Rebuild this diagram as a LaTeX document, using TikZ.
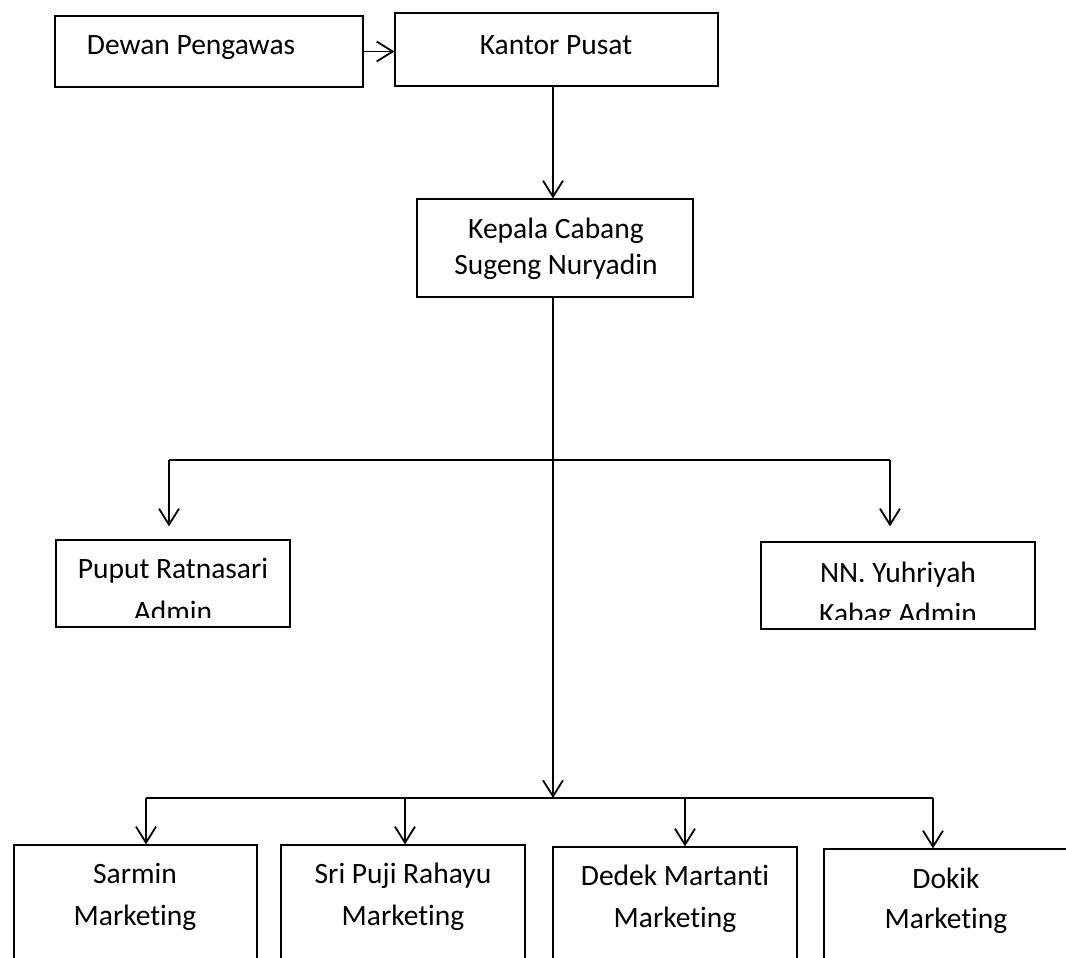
\documentclass[tikz,border=0pt]{standalone}
\usepackage{fontspec}
\setmainfont{Carlito}[Ligatures={NoCommon,NoContextual},Contextuals=NoAlternate]
\usetikzlibrary{arrows.meta}
\begin{document}
\begin{tikzpicture}[x=1pt,y=-1pt,
  box/.style={draw=black,line width=1.25pt,rectangle,inner sep=0pt},
  lbl/.style={anchor=base,inner sep=0pt,font=\fontsize{29.5}{36}\selectfont},
  conn/.style={line width=1.8pt},
  arr/.style={conn,-{Straight Barb[length=16pt,width=20pt,line width=1.8pt]}}]
\useasboundingbox (0,0) rectangle (1066,958);
% boxes
\node[box,minimum width=308pt,minimum height=71pt] (dewan) at (209,51.5) {};
\node[box,minimum width=323pt,minimum height=73pt] (kantor) at (556.5,49.5) {};
\node[box,minimum width=276pt,minimum height=98pt] (kepala) at (555,248) {};
\node[box,minimum width=234pt,minimum height=87pt] (puput) at (173,583.5) {};
\node[box,minimum width=274pt,minimum height=87pt] (yuh) at (898,585.5) {};
\node[box,minimum width=243pt,minimum height=155pt] (sarmin) at (135.5,922.5) {};
\node[box,minimum width=244pt,minimum height=155pt] (sri) at (403,922.5) {};
\node[box,minimum width=244pt,minimum height=153pt] (dedek) at (675,923.5) {};
\node[box,minimum width=266pt,minimum height=151pt] (dokik) at (957,924.5) {};
% texts
\node[lbl] (dewanT) at (191,55) {Dewan Pengawas};
\node[lbl] (kantorT) at (556,55) {Kantor Pusat};
\node[lbl] (kepalaT1) at (556,238) {Kepala Cabang};
\node[lbl] (kepalaT2) at (556,274) {Sugeng Nuryadin};
\node[lbl] (puputT1) at (173,578) {Puput Ratnasari};
\begin{scope}
  \clip (puput.north west) rectangle ([yshift=10pt]puput.south east);
  \node[lbl] (puputT2) at (173,621) {Admin};
\end{scope}
\node[lbl] (yuhT1) at (898,582) {NN. Yuhriyah};
\begin{scope}
  \clip (yuh.north west) rectangle ([yshift=10pt]yuh.south east);
  \node[lbl] (yuhT2) at (898,623) {Kabag Admin};
\end{scope}
\node[lbl] (sarminT1) at (135,883) {Sarmin};
\node[lbl] (sarminT2) at (135,925) {Marketing};
\node[lbl] (sriT1) at (403,883) {Sri Puji Rahayu};
\node[lbl] (sriT2) at (403,925) {Marketing};
\node[lbl] (dedekT1) at (675,885) {Dedek Martanti};
\node[lbl] (dedekT2) at (675,927) {Marketing};
\node[lbl] (dokikT1) at (946,888) {Dokik};
\node[lbl] (dokikT2) at (946,928) {Marketing};
% coordinates
\coordinate (spine) at (553,0);
\coordinate (b1L) at (169,460);
\coordinate (b1R) at (890,460);
\coordinate (b2L) at (146,798);
\coordinate (b2a) at (405,798);
\coordinate (b2b) at (685,798);
\coordinate (b2R) at (933,798);
% connectors
\draw[arr] (dewan.east) -- (dewan.east -| kantor.west);
\draw[arr] (kantor.south -| spine) -- (kepala.north -| spine);
\draw[arr] (kepala.south -| spine) -- (b2L -| spine);
\draw[conn] (b1L) -- (b1R);
\draw[arr,shorten >=13pt] (b1L) -- (b1L |- puput.north);
\draw[arr,shorten >=15pt] (b1R) -- (b1R |- yuh.north);
\draw[conn] (b2L) -- (b2R);
\draw[arr] (b2L) -- (b2L |- sarmin.north);
\draw[arr] (b2a) -- (b2a |- sri.north);
\draw[arr] (b2b) -- (b2b |- dedek.north);
\draw[arr] (b2R) -- (b2R |- dokik.north);
\end{tikzpicture}
\end{document}
